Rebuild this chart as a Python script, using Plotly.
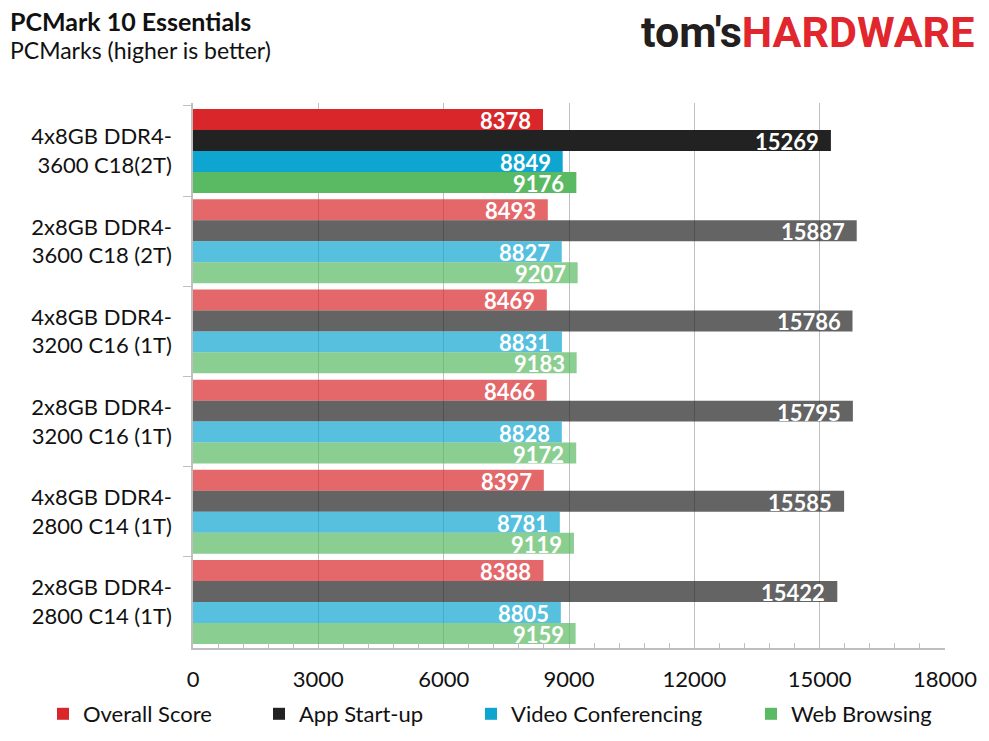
import plotly.graph_objects as go

# memory configs, top to bottom
configs = [
    "4x8GB DDR4-<br>3600 C18(2T)",
    "2x8GB DDR4-<br>3600 C18 (2T)",
    "4x8GB DDR4-<br>3200 C16 (1T)",
    "2x8GB DDR4-<br>3200 C16 (1T)",
    "4x8GB DDR4-<br>2800 C14 (1T)",
    "2x8GB DDR4-<br>2800 C14 (1T)",
]

overall_score = [8378, 8493, 8469, 8466, 8397, 8388]
app_startup = [15269, 15887, 15786, 15795, 15585, 15422]
video_conf = [8849, 8827, 8831, 8828, 8781, 8805]
web_browsing = [9176, 9207, 9183, 9172, 9119, 9159]

series = [
    ("Overall Score", overall_score, "#D9262B"),
    ("App Start-up", app_startup, "#222222"),
    ("Video Conferencing", video_conf, "#0EA5D0"),
    ("Web Browsing", web_browsing, "#5AB963"),
]

font_main = "Lato"
W, H = 989, 741
ML, MR, MT, MB = 193, 44, 103, 93
BARGAP = 0.07
pw, ph = W - ML - MR, H - MT - MB

# legend entries are spread unevenly in the original, one legend box per series
legend_x = [43, 259, 471, 751]
legend_ids = ["legend", "legend2", "legend3", "legend4"]

fig = go.Figure()

# first config is highlighted, the rest are faded
opac = [1.0] + [0.7] * (len(configs) - 1)

for (name, vals, col), lg in zip(series, legend_ids):
    fig.add_trace(go.Bar(
        y=configs, x=vals, name=name, orientation="h", legend=lg,
        marker=dict(color=col, opacity=opac, line=dict(width=0)),
    ))

# value labels: plotly shrinks inside text to the bar height, so use annotations
n = len(series)
bw = (1 - BARGAP) / n
for i, (name, vals, col) in enumerate(series):
    for j, v in enumerate(vals):
        fig.add_annotation(
            x=v, y=j - (1 - BARGAP) / 2 + bw * (i + 0.5),
            xref="x", yref="y", xanchor="right", yanchor="middle",
            xshift=-10, yshift=-1, showarrow=False, text=f"<b>{v}</b>",
            font=dict(family=font_main, size=22, color="white"),
        )

fig.update_layout(
    width=W, height=H,
    barmode="group", bargap=BARGAP, bargroupgap=0,
    plot_bgcolor="white", paper_bgcolor="white",
    margin=dict(l=ML, r=MR, t=MT, b=MB, autoexpand=False),
    font=dict(family=font_main, size=22, color="#111111"),
    showlegend=True,
)
for lx, lg in zip(legend_x, legend_ids):
    fig.update_layout({lg: dict(
        orientation="h", x=lx / W, xanchor="left", xref="container",
        y=(H - MB - 714) / ph, yanchor="middle", yref="paper",
        bgcolor="rgba(0,0,0,0)", font=dict(size=22), itemwidth=30,
    )})

fig.update_xaxes(
    range=[0, 18000], dtick=3000, tick0=0, tickformat="d",
    showgrid=True, gridcolor="#BFBFBF", gridwidth=1,
    showline=True, linecolor="#BFBFBF", linewidth=1.5,
    ticks="", zeroline=False, automargin=False,
    minor=dict(dtick=600, ticks="inside", ticklen=5, tickcolor="#BFBFBF", showgrid=False),
    tickfont=dict(size=22, color="#111111"), ticklabelstandoff=11,
)
fig.update_yaxes(
    autorange="reversed", showgrid=False, automargin=False,
    showline=True, linecolor="#BFBFBF", linewidth=1.5,
    ticks="outside", tickson="boundaries", ticklen=8, tickcolor="#BFBFBF",
    tickfont=dict(size=22, color="#111111"), ticklabelstandoff=15,
)

# header texts, positioned in pixels of the page
header = [
    (8, 21, "left", "<b>PCMark 10 Essentials</b>", 25, font_main),
    (8, 50, "left", "PCMarks (higher is better)", 23, font_main),
    (976, 32, "right",
     "<span style='color:#231F20'>tom's</span><span style='color:#E1262D'>HARDWARE</span>",
     43, "Roboto"),
]
for px, py, anchor, txt, size, fam in header:
    fig.add_annotation(
        x=(px - ML) / pw, y=(H - MB - py) / ph, xref="paper", yref="paper",
        xanchor=anchor, yanchor="middle", showarrow=False, text=txt,
        font=dict(family=fam, size=size, color="#111111",
                  weight="bold" if fam == "Roboto" else "normal"),
    )

fig.write_html("out.html", config={"displayModeBar": False},
               post_script="document.body.style.margin='0';")
